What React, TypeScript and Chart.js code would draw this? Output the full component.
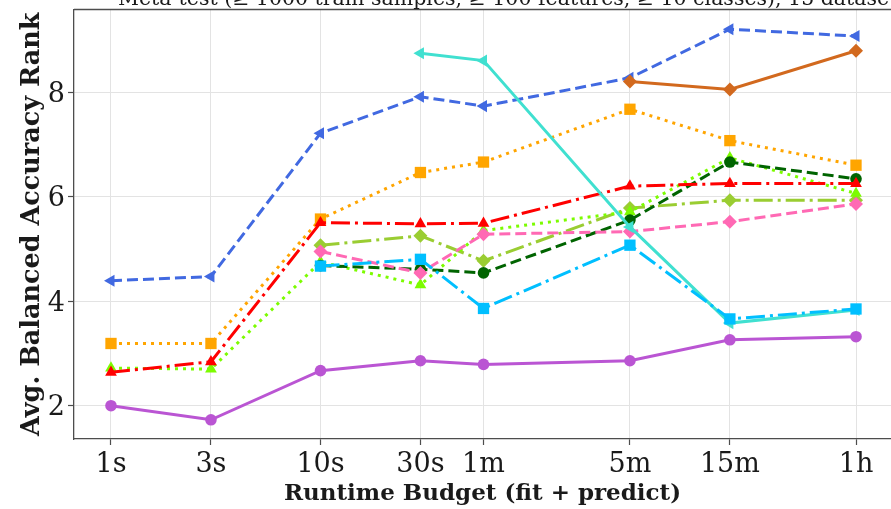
import React, { useEffect, useRef } from "react";
import { Chart, registerables } from "chart.js";

Chart.register(...registerables);

const budgetSeconds = [1, 3, 10, 30, 60, 300, 900, 3600];
const budgetLabels = ["1s", "3s", "10s", "30s", "1m", "5m", "15m", "1h"];
const yTickValues = [2, 4, 6, 8];

const titleText = "Meta-test (≥ 1000 train samples, ≥ 100 features, ≥ 10 classes), 15 datasets";
const xTitle = "Runtime Budget (fit + predict)";
const yTitle = "Avg. Balanced Accuracy Rank";

const chocolateVals = [null, null, null, null, null, 8.2, 8.05, 8.79];
const cyanVals = [null, null, 4.67, 4.8, 3.86, 5.07, 3.66, 3.85];
const turquoiseVals = [null, null, null, 8.74, 8.6, 5.42, 3.58, 3.83];
const redVals = [2.64, 2.84, 5.5, 5.48, 5.49, 6.2, 6.25, 6.25];
const orangeVals = [3.19, 3.19, 5.57, 6.46, 6.66, 7.67, 7.07, 6.6];
const pinkVals = [null, null, 4.95, 4.54, 5.28, 5.33, 5.52, 5.86];
const darkGreenVals = [null, null, 4.68, 4.61, 4.54, 5.55, 6.66, 6.34];
const lawnGreenVals = [2.72, 2.7, 4.75, 4.31, 5.35, 5.71, 6.74, 6.06];
const yellowGreenVals = [null, null, 5.07, 5.25, 4.77, 5.78, 5.93, 5.93];
const blueVals = [4.39, 4.47, 7.21, 7.91, 7.73, 8.27, 9.2, 9.07];
const purpleVals = [2.0, 1.73, 2.67, 2.86, 2.79, 2.86, 3.26, 3.32];

const DASHED = [11, 5];
const DOTTED = [3, 5];
const DASHDOT = [19, 5, 3, 5];

function toPoints(vals: (number | null)[]) {
  return vals.map((v, i) => ({ x: budgetSeconds[i], y: v }));
}

function series(
  vals: (number | null)[],
  color: string,
  dash: number[],
  pointStyle: string,
  radius: number,
  rotation = 0
) {
  return {
    data: toPoints(vals),
    borderColor: color,
    backgroundColor: color,
    pointBackgroundColor: color,
    pointBorderColor: color,
    pointBorderWidth: 0,
    borderWidth: 3,
    borderDash: dash,
    pointStyle,
    pointRadius: radius,
    pointHoverRadius: radius,
    pointRotation: rotation,
    tension: 0,
    spanGaps: false,
    clip: false as any,
  };
}

const FONT = '"DejaVu Serif", "Liberation Serif", serif';

const textPlugin = {
  id: "textPlugin",
  afterDraw(chart: any) {
    const ctx = chart.ctx;
    const xs = chart.scales.x;
    const ys = chart.scales.y;
    const area = chart.chartArea;
    ctx.save();
    // top border
    ctx.strokeStyle = "#4d4d4d";
    ctx.lineWidth = 1.3;
    ctx.beginPath();
    ctx.moveTo(area.left, area.top);
    ctx.lineTo(area.right, area.top);
    ctx.stroke();

    ctx.fillStyle = "#1a1a1a";
    // x tick labels
    ctx.font = `27px ${FONT}`;
    ctx.textAlign = "center";
    ctx.textBaseline = "alphabetic";
    budgetSeconds.forEach((v, i) => {
      ctx.fillText(budgetLabels[i], xs.getPixelForValue(v), 472);
    });
    // y tick labels
    ctx.textAlign = "right";
    yTickValues.forEach((v) => {
      ctx.fillText(String(v), 65, ys.getPixelForValue(v) + 9.8);
    });
    // x title
    ctx.font = `bold 23px ${FONT}`;
    ctx.textAlign = "center";
    ctx.fillText(xTitle, (area.left + area.right) / 2, 500);
    // y title
    ctx.save();
    ctx.font = `bold 25.5px ${FONT}`;
    ctx.translate(39, (area.top + area.bottom) / 2);
    ctx.rotate(-Math.PI / 2);
    ctx.textAlign = "center";
    ctx.fillText(yTitle, 0, 0);
    ctx.restore();
    // title (cut off at top)
    ctx.font = `20.5px ${FONT}`;
    ctx.textAlign = "left";
    ctx.fillText(titleText, 118, 5);
    ctx.restore();
  },
};

export default function App() {
  const ref = useRef<HTMLCanvasElement>(null);
  useEffect(() => {
    if (!ref.current) return;
    const chart = new Chart(ref.current, {
      type: "line",
      data: {
        datasets: [
          series(chocolateVals, "#D2691E", [], "rectRot", 7),
          series(cyanVals, "#00BFFF", DASHDOT, "rect", 8),
          series(turquoiseVals, "#40E0D0", [], "triangle", 7, -90),
          series(redVals, "#FF0000", DASHDOT, "triangle", 6.8),
          series(orangeVals, "#FFA500", DOTTED, "rect", 8),
          series(pinkVals, "#FF69B4", DASHED, "rectRot", 7),
          series(darkGreenVals, "#006400", DASHED, "circle", 5.8),
          series(lawnGreenVals, "#7CFC00", DOTTED, "triangle", 6.8),
          series(yellowGreenVals, "#9ACD32", DASHDOT, "rectRot", 7),
          series(blueVals, "#4169E1", DASHED, "triangle", 7, -90),
          series(purpleVals, "#BA55D3", [], "circle", 5.8),
        ] as any,
      },
      options: {
        animation: false,
        responsive: false,
        layout: { autoPadding: false, padding: { top: 9.5, right: 0, left: 0, bottom: 0 } },
        plugins: {
          legend: { display: false },
          tooltip: { enabled: false },
          title: { display: false },
        },
        scales: {
          x: {
            type: "logarithmic",
            min: 0.6659,
            max: 5289,
            afterBuildTicks: (scale: any) => {
              scale.ticks = budgetSeconds.map((v) => ({ value: v, major: true }));
            },
            afterFit: (scale: any) => {
              scale.height = 70;
            },
            ticks: { display: false },
            grid: {
              color: "#e3e3e3",
              lineWidth: 1,
              drawTicks: true,
              tickLength: 6,
              tickColor: "#4d4d4d",
              tickWidth: 1.2,
            },
            border: { display: true, color: "#4d4d4d", width: 1.3 },
          },
          y: {
            type: "linear",
            min: 1.363,
            max: 9.578,
            afterBuildTicks: (scale: any) => {
              scale.ticks = yTickValues.map((v) => ({ value: v }));
            },
            afterFit: (scale: any) => {
              scale.width = 74;
            },
            ticks: { display: false },
            grid: {
              color: "#e3e3e3",
              lineWidth: 1,
              drawTicks: true,
              tickLength: 6,
              tickColor: "#4d4d4d",
              tickWidth: 1.2,
            },
            border: { display: true, color: "#4d4d4d", width: 1.3 },
          },
        },
      } as any,
      plugins: [textPlugin],
    });
    return () => chart.destroy();
  }, []);
  return (
    <div style={{ position: "fixed", left: 0, top: 0, width: 891, height: 509, background: "#fff" }}>
      <canvas ref={ref} width={891} height={509} style={{ width: 891, height: 509, display: "block" }} />
    </div>
  );
}
